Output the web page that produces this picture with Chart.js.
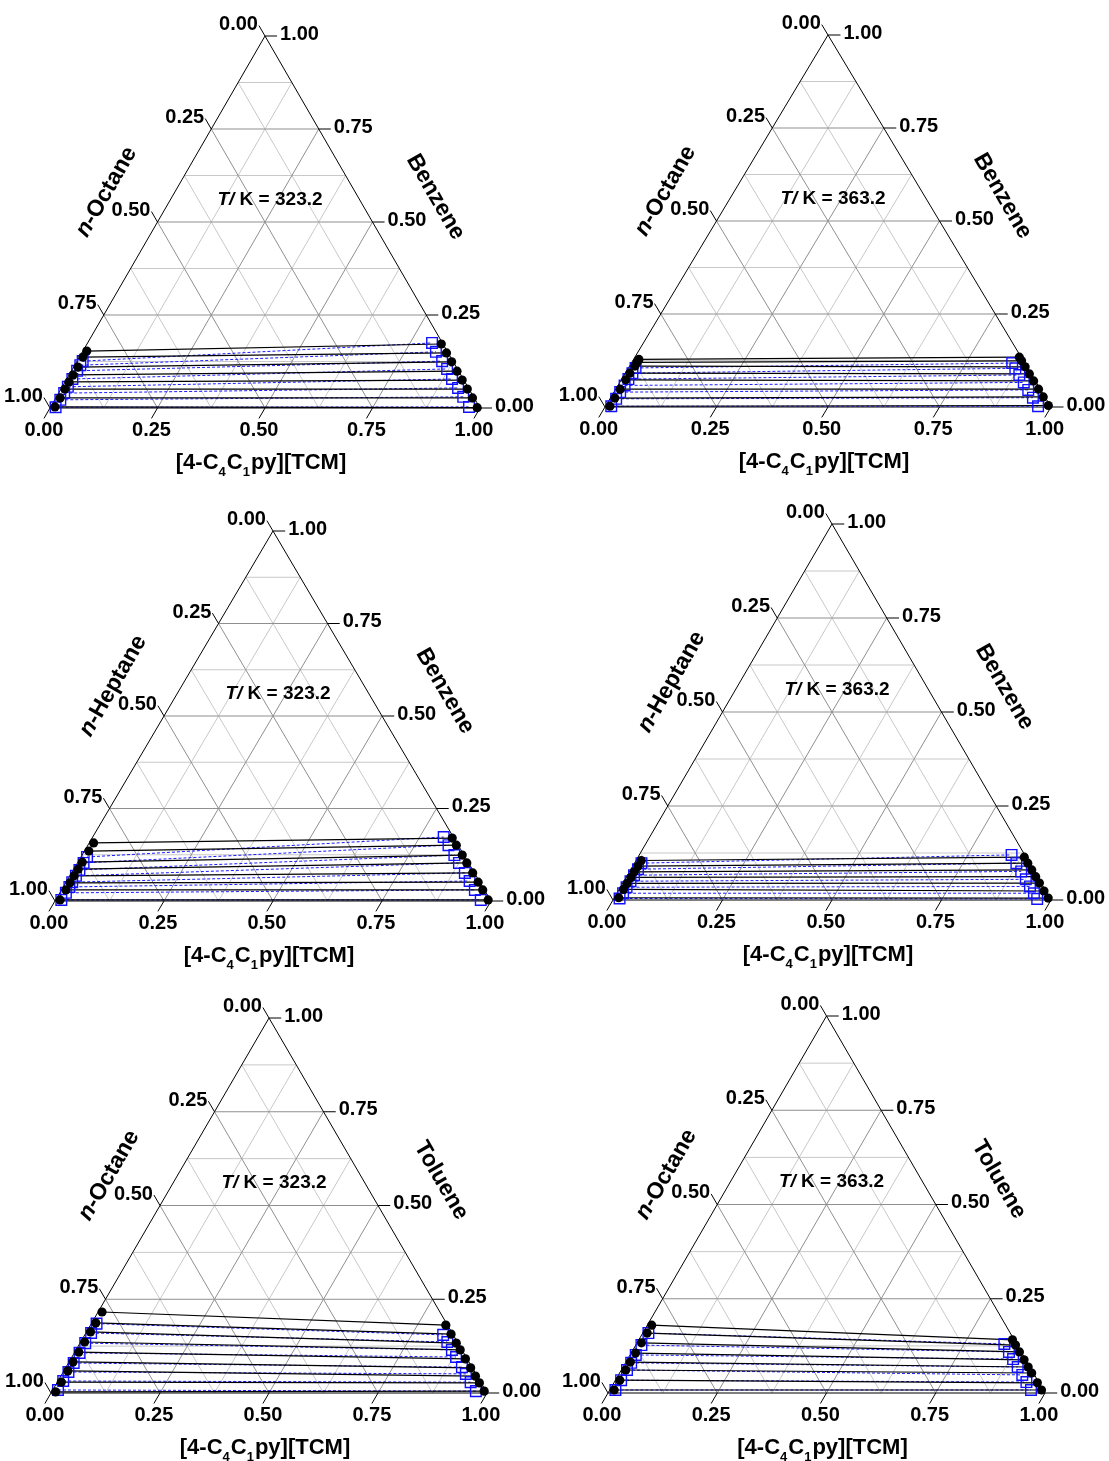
<!DOCTYPE html>
<html><head><meta charset="utf-8">
<script src="https://cdn.jsdelivr.net/npm/chart.js@4.4.0/dist/chart.umd.min.js"></script>
<style>
html,body{margin:0;padding:0;background:#fff}
body{width:1109px;height:1461px;position:relative;overflow:hidden}
canvas.p{position:absolute}
</style></head><body>
<script>
// ---------- axis ticks / grid ----------
const tickValues = [0, 0.25, 0.5, 0.75, 1];
const tickLabels = ['0.00', '0.25', '0.50', '0.75', '1.00'];
const majorGrid = [0.25, 0.5, 0.75];
const minorGrid = [0.125, 0.375, 0.625, 0.875];

// ---------- panel text ----------
const panelTemps = ['323.2', '363.2', '323.2', '363.2', '323.2', '363.2'];
const alkaneNames = ['Octane', 'Octane', 'Heptane', 'Heptane', 'Octane', 'Octane'];
const aromaticNames = ['Benzene', 'Benzene', 'Benzene', 'Benzene', 'Toluene', 'Toluene'];

// ---------- tie-line data ----------
// raffinate points: [x_IL, x_aromatic]; extract points: [x_alkane, x_aromatic]
const p1ExpRaff = [[0.009,0.153],[0.008,0.137],[0.010,0.110],[0.009,0.089],[0.009,0.070],[0.009,0.051],[0.010,0.027],[0.010,0.003]];
const p1ExpExtr = [[0.004,0.172],[0.004,0.148],[0.004,0.124],[0.004,0.099],[0.004,0.075],[0.004,0.051],[0.004,0.027],[0.006,0.001]];
const p1CalRaff = [[0.013,0.126],[0.013,0.115],[0.013,0.100],[0.013,0.078],[0.013,0.057],[0.013,0.040],[0.013,0.022],[0.012,0.002]];
const p1CalExtr = [[0.024,0.175],[0.027,0.151],[0.025,0.126],[0.024,0.105],[0.026,0.078],[0.024,0.054],[0.024,0.030],[0.024,0.003]];

const p2ExpRaff = [[0.012,0.128],[0.012,0.120],[0.012,0.110],[0.010,0.091],[0.010,0.073],[0.010,0.048],[0.010,0.024],[0.010,0.002]];
const p2ExpExtr = [[0.004,0.134],[0.004,0.124],[0.004,0.108],[0.004,0.089],[0.004,0.070],[0.004,0.048],[0.004,0.027],[0.004,0.004]];
const p2CalRaff = [[0.016,0.105],[0.016,0.091],[0.015,0.075],[0.015,0.058],[0.014,0.040],[0.014,0.022],[0.013,0.002]];
const p2CalExtr = [[0.028,0.118],[0.028,0.104],[0.028,0.086],[0.028,0.066],[0.028,0.046],[0.028,0.025],[0.028,0.002]];

const p3ExpRaff = [[0.010,0.157],[0.010,0.135],[0.010,0.105],[0.010,0.086],[0.010,0.068],[0.010,0.049],[0.010,0.030],[0.010,0.003]];
const p3ExpExtr = [[0.004,0.170],[0.004,0.151],[0.004,0.124],[0.004,0.103],[0.004,0.076],[0.004,0.051],[0.004,0.030],[0.005,0.003]];
const p3CalRaff = [[0.014,0.119],[0.014,0.103],[0.014,0.084],[0.014,0.068],[0.014,0.051],[0.014,0.038],[0.014,0.022],[0.013,0.003]];
const p3CalExtr = [[0.022,0.173],[0.022,0.151],[0.022,0.124],[0.022,0.103],[0.022,0.076],[0.022,0.054],[0.022,0.030],[0.022,0.003]];

const p4ExpRaff = [[0.012,0.105],[0.012,0.090],[0.011,0.075],[0.011,0.060],[0.010,0.044],[0.010,0.028],[0.010,0.006]];
const p4ExpExtr = [[0.004,0.114],[0.004,0.098],[0.004,0.080],[0.004,0.062],[0.004,0.045],[0.004,0.024],[0.004,0.005]];
const p4CalRaff = [[0.016,0.098],[0.016,0.082],[0.015,0.066],[0.015,0.050],[0.014,0.034],[0.014,0.018],[0.013,0.004]];
const p4CalExtr = [[0.030,0.120],[0.030,0.098],[0.030,0.076],[0.030,0.055],[0.030,0.036],[0.030,0.018],[0.030,0.003]];

const p5ExpRaff = [[0.009,0.216],[0.009,0.187],[0.009,0.163],[0.009,0.136],[0.009,0.109],[0.009,0.083],[0.009,0.059],[0.009,0.029],[0.009,0.003]];
const p5ExpExtr = [[0.004,0.181],[0.004,0.157],[0.004,0.133],[0.004,0.115],[0.004,0.091],[0.004,0.067],[0.004,0.045],[0.004,0.027],[0.004,0.005]];
const p5CalRaff = [[0.012,0.185],[0.012,0.160],[0.012,0.133],[0.012,0.107],[0.012,0.080],[0.012,0.056],[0.012,0.032],[0.012,0.008]];
const p5CalExtr = [[0.023,0.155],[0.023,0.136],[0.023,0.115],[0.023,0.096],[0.023,0.069],[0.023,0.051],[0.023,0.029],[0.023,0.005]];

const p6ExpRaff = [[0.010,0.180],[0.010,0.159],[0.010,0.133],[0.010,0.106],[0.010,0.082],[0.010,0.061],[0.010,0.034],[0.010,0.008]];
const p6ExpExtr = [[0.004,0.141],[0.004,0.127],[0.004,0.109],[0.004,0.088],[0.004,0.069],[0.004,0.053],[0.004,0.027],[0.004,0.008]];
const p6CalRaff = [[0.013,0.159],[0.013,0.127],[0.013,0.101],[0.013,0.080],[0.013,0.061],[0.013,0.034],[0.013,0.008]];
const p6CalExtr = [[0.028,0.130],[0.028,0.109],[0.028,0.090],[0.028,0.069],[0.028,0.048],[0.028,0.029],[0.028,0.008]];

// ---------- layout (page pixels of triangle vertices) ----------
const panelLayout = [
  {x0:0,   y0:0,    w:555, h:487, L:50,  R:480,  T:36,   B:408},
  {x0:555, y0:0,    w:554, h:487, L:605, R:1051, T:35,   B:407},
  {x0:0,   y0:487,  w:555, h:487, L:55,  R:491,  T:531,  B:901},
  {x0:555, y0:487,  w:554, h:487, L:613, R:1051, T:524,  B:900},
  {x0:0,   y0:974,  w:555, h:487, L:51,  R:487,  T:1018, B:1393},
  {x0:555, y0:974,  w:554, h:487, L:608, R:1045, T:1016, B:1393}
];
const panelData = [
  [p1ExpRaff, p1ExpExtr, p1CalRaff, p1CalExtr],
  [p2ExpRaff, p2ExpExtr, p2CalRaff, p2CalExtr],
  [p3ExpRaff, p3ExpExtr, p3CalRaff, p3CalExtr],
  [p4ExpRaff, p4ExpExtr, p4CalRaff, p4CalExtr],
  [p5ExpRaff, p5ExpExtr, p5CalRaff, p5CalExtr],
  [p6ExpRaff, p6ExpExtr, p6CalRaff, p6CalExtr]
];

const S = Math.sqrt(3) / 2;
const TK = 0.028; // tick length in composition units
// ternary (IL, aromatic) -> cartesian
function cart(il, ar) { return {x: il + ar / 2, y: ar * S}; }
function raffPt(p) { return cart(p[0], p[1]); }
function extrPt(p) { return cart(1 - p[0] - p[1], p[1]); }

const FONT = '"Liberation Sans", Arial, sans-serif';

function lineDs(pts, color, width, dash) {
  return {type: 'scatter', data: pts, showLine: true, borderColor: color, borderWidth: width,
    borderDash: dash || [], pointRadius: 0, fill: false, tension: 0, clip: false};
}

function buildDatasets(idx) {
  const [expR, expE, calR, calE] = panelData[idx];
  const ds = [];
  const addGrid = (vals, color) => {
    vals.forEach(v => {
      ds.push(lineDs([cart(0, v), cart(1 - v, v)], color, 1));       // constant aromatic
      ds.push(lineDs([cart(v, 0), cart(v, 1 - v)], color, 1));       // constant IL
      ds.push(lineDs([cart(0, 1 - v), cart(1 - v, 0)], color, 1));   // constant alkane
    });
  };
  addGrid(minorGrid, '#c8c8c8');
  addGrid(majorGrid, '#8f8f8f');
  // triangle edges
  ds.push(lineDs([cart(0, 0), cart(1, 0), cart(0, 1), cart(0, 0)], '#000', 1));
  // ticks
  tickValues.forEach(v => {
    ds.push(lineDs([cart(1 - v, v), cart(1 - v + TK, v)], '#000', 1));       // aromatic (right)
    ds.push(lineDs([cart(0, 1 - v), cart(-TK, 1 - v + TK)], '#000', 1));     // alkane (left)
    ds.push(lineDs([cart(v, 0), {x: v - TK / 2, y: -TK * S}], '#000', 1));   // IL (bottom)
  });
  // calculated tie lines (blue dashed)
  calR.forEach((r, i) => ds.push(lineDs([raffPt(r), extrPt(calE[i])], '#1a1aff', 1, [3, 2])));
  // experimental tie lines (black)
  expR.forEach((r, i) => ds.push(lineDs([raffPt(r), extrPt(expE[i])], '#000', 1.2)));
  // markers
  ds.push({type: 'scatter', data: calR.map(raffPt).concat(calE.map(extrPt)), pointStyle: 'rect',
    pointRadius: 7.5, pointBorderColor: '#1010ff', pointBackgroundColor: 'rgba(0,0,0,0)', pointBorderWidth: 1.4, showLine: false, clip: false});
  ds.push({type: 'scatter', data: expR.map(raffPt).concat(expE.map(extrPt)), pointStyle: 'circle',
    pointRadius: 4.6, pointBorderColor: '#000', pointBackgroundColor: '#000', pointBorderWidth: 0, showLine: false, clip: false});
  return ds.reverse(); // first dataset is drawn on top
}

function textPlugin(idx) {
  return {
    id: 'ternaryText' + idx,
    afterDatasetsDraw(chart) {
      const ctx = chart.ctx, xs = chart.scales.x, ys = chart.scales.y;
      const px = p => ({x: xs.getPixelForValue(p.x), y: ys.getPixelForValue(p.y)});
      ctx.save();
      ctx.fillStyle = '#000';
      ctx.font = 'bold 20px ' + FONT;
      tickValues.forEach((v, k) => {
        const lab = tickLabels[k];
        let e = px(cart(1 - v + TK, v));
        ctx.textAlign = 'left'; ctx.textBaseline = 'middle';
        ctx.fillText(lab, e.x + 3, e.y - 2);
        e = px(cart(-TK, 1 - v + TK));
        ctx.textAlign = 'right'; ctx.textBaseline = 'middle';
        ctx.fillText(lab, e.x - 1, e.y - 1);
        e = px({x: v - TK / 2, y: -TK * S});
        ctx.textAlign = 'center'; ctx.textBaseline = 'top';
        ctx.fillText(lab, e.x, e.y + 2);
      });
      const a = chart.chartArea;
      const midX = (a.left + a.right) / 2, H = a.bottom - a.top;
      // temperature label
      ctx.textBaseline = 'middle';
      const t1 = 'T/', t2 = ' K = ' + panelTemps[idx];
      ctx.font = 'italic bold 19px ' + FONT; const w1 = ctx.measureText(t1).width;
      ctx.font = 'bold 19px ' + FONT; const w2 = ctx.measureText(t2).width;
      const sx = midX + 5 - (w1 + w2) / 2, sy = a.top + 0.44 * H;
      ctx.textAlign = 'left';
      ctx.font = 'italic bold 19px ' + FONT; ctx.fillText(t1, sx, sy);
      ctx.font = 'bold 19px ' + FONT; ctx.fillText(t2, sx + w1, sy);
      // bottom title with subscripts
      const parts = [['[4-C', 0], ['4', 1], ['C', 0], ['1', 1], ['py][TCM]', 0]];
      const fMain = 'bold 22px ' + FONT, fSub = 'bold 13px ' + FONT;
      let tw = 0;
      parts.forEach(p => { ctx.font = p[1] ? fSub : fMain; tw += ctx.measureText(p[0]).width + (p[1] ? 1 : 0); });
      let bx = midX - 4 - tw / 2; const by = a.bottom + 61;
      ctx.textBaseline = 'alphabetic';
      parts.forEach(p => {
        ctx.font = p[1] ? fSub : fMain;
        ctx.fillText(p[0], bx, p[1] ? by + 7 : by);
        bx += ctx.measureText(p[0]).width + (p[1] ? 1 : 0);
      });
      // left title (alkane)
      const fT = 'bold 23px ' + FONT, fTi = 'italic bold 23px ' + FONT;
      const lm = {x: (a.left + midX) / 2 - 51, y: (a.bottom + a.top) / 2 - 30};
      ctx.save();
      ctx.translate(lm.x, lm.y); ctx.rotate(-Math.PI / 3);
      ctx.font = fTi; const wn = ctx.measureText('n').width;
      ctx.font = fT; const wr = ctx.measureText('-' + alkaneNames[idx]).width;
      ctx.textBaseline = 'middle'; ctx.textAlign = 'left';
      ctx.font = fTi; ctx.fillText('n', -(wn + wr) / 2, 0);
      ctx.font = fT; ctx.fillText('-' + alkaneNames[idx], -(wn + wr) / 2 + wn, 0);
      ctx.restore();
      // right title (aromatic)
      const rm = {x: (a.right + midX) / 2 + 63, y: (a.bottom + a.top) / 2 - 25};
      ctx.save();
      ctx.translate(rm.x, rm.y); ctx.rotate(Math.PI / 3);
      ctx.font = fT; ctx.textAlign = 'center'; ctx.textBaseline = 'middle';
      ctx.fillText(aromaticNames[idx], 0, 0);
      ctx.restore();
      ctx.restore();
    }
  };
}

panelLayout.forEach((L, idx) => {
  const cv = document.createElement('canvas');
  cv.className = 'p';
  cv.width = L.w; cv.height = L.h;
  cv.style.left = L.x0 + 'px'; cv.style.top = L.y0 + 'px';
  cv.style.width = L.w + 'px'; cv.style.height = L.h + 'px';
  document.body.appendChild(cv);
  new Chart(cv.getContext('2d'), {
    type: 'scatter',
    data: {datasets: buildDatasets(idx)},
    options: {
      responsive: false, animation: false, events: [],
      layout: {padding: {left: L.L - L.x0, right: L.x0 + L.w - L.R, top: L.T - L.y0, bottom: L.y0 + L.h - L.B}},
      plugins: {legend: {display: false}, tooltip: {enabled: false}},
      scales: {
        x: {type: 'linear', min: 0, max: 1, display: false},
        y: {type: 'linear', min: 0, max: S, display: false}
      }
    },
    plugins: [textPlugin(idx)]
  });
});
</script>
</body></html>
